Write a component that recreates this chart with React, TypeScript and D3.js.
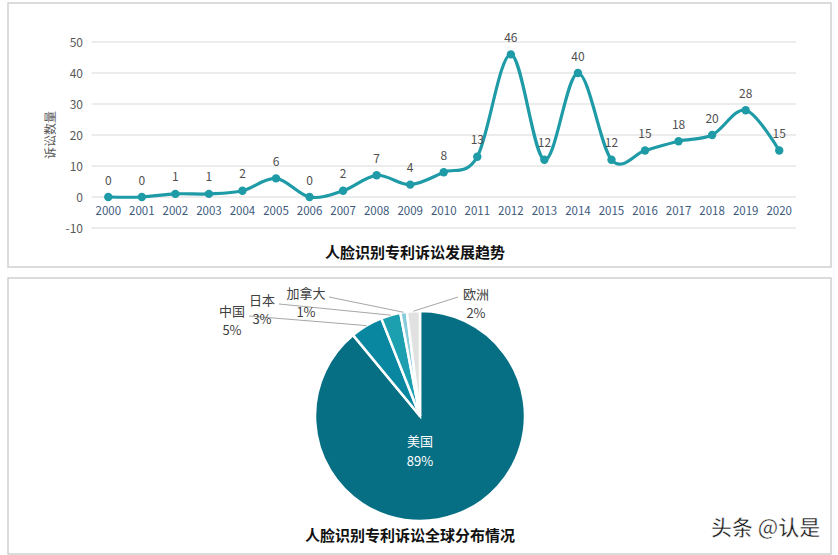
import React, { useRef, useEffect } from 'react';
import * as d3 from 'd3';

// litigation trend (top chart)
const years = ['2000', '2001', '2002', '2003', '2004', '2005', '2006', '2007', '2008', '2009', '2010',
  '2011', '2012', '2013', '2014', '2015', '2016', '2017', '2018', '2019', '2020'];
const cases = [0, 0, 1, 1, 2, 6, 0, 2, 7, 4, 8, 13, 46, 12, 40, 12, 15, 18, 20, 28, 15];
const yTicks = [-10, 0, 10, 20, 30, 40, 50];

// global distribution (bottom chart)
const regions = ['美国', '中国', '日本', '加拿大', '欧洲'];
const shares = [89, 5, 3, 1, 2];
const regionColors = ['#076F84', '#0A87A0', '#1CA0B0', '#86CDDC', '#E1E1E1'];

const W = 838;
const H = 555;
const FONT = '"Noto Sans CJK SC", "Noto Sans", sans-serif';

const App: React.FC = () => {
  const svgRef = useRef<SVGSVGElement>(null);

  useEffect(() => {
    if (!svgRef.current) return;
    const svg = d3.select(svgRef.current);
    svg.selectAll('*').remove();

    svg.append('rect').attr('width', W).attr('height', H).attr('fill', '#fff');

    // panel frames
    svg.append('rect')
      .attr('x', 8).attr('y', 3).attr('width', 823).attr('height', 264)
      .attr('fill', 'none').attr('stroke', '#d0d0d0').attr('stroke-width', 1.5);
    svg.append('rect')
      .attr('x', 8).attr('y', 278).attr('width', 823).attr('height', 276)
      .attr('fill', 'none').attr('stroke', '#d0d0d0').attr('stroke-width', 1.5);

    // ---------- line chart ----------
    const x = d3.scaleBand<string>().domain(years).range([91.5, 796]);
    const xc = (d: string) => (x(d) as number) + x.bandwidth() / 2;
    const y = d3.scaleLinear().domain([-10, 50]).range([228, 42]);

    const top = svg.append('g');

    yTicks.forEach(v => {
      top.append('line')
        .attr('x1', 91.5).attr('x2', 796)
        .attr('y1', y(v)).attr('y2', y(v))
        .attr('stroke', '#d9d9d9').attr('stroke-width', 1);
      top.append('text')
        .attr('x', 83).attr('y', y(v) + 4.5)
        .attr('text-anchor', 'end')
        .attr('font-family', FONT).attr('font-size', '12px')
        .attr('fill', '#595959')
        .text(v);
    });

    years.forEach(yr => {
      top.append('text')
        .attr('x', xc(yr)).attr('y', 214.5)
        .attr('text-anchor', 'middle')
        .attr('font-family', FONT).attr('font-size', '11.5px')
        .attr('fill', '#3D5A80')
        .text(yr);
    });

    const pts = years.map((yr, i) => ({ yr, v: cases[i] }));
    const line = d3.line<{ yr: string; v: number }>()
      .x(d => xc(d.yr))
      .y(d => y(d.v))
      .curve(d3.curveCardinal.tension(0));

    top.append('path')
      .datum(pts)
      .attr('d', line)
      .attr('fill', 'none')
      .attr('stroke', '#1E9BA7')
      .attr('stroke-width', 3.2);

    top.selectAll('.pt')
      .data(pts)
      .enter()
      .append('circle')
      .attr('cx', d => xc(d.yr))
      .attr('cy', d => y(d.v))
      .attr('r', 4.2)
      .attr('fill', '#1E9BA7');

    top.selectAll('.lbl')
      .data(pts)
      .enter()
      .append('text')
      .attr('x', d => xc(d.yr))
      .attr('y', d => y(d.v) - 12.5)
      .attr('text-anchor', 'middle')
      .attr('font-family', FONT).attr('font-size', '12px')
      .attr('fill', '#4f4f4f')
      .text(d => d.v);

    top.append('text')
      .attr('transform', 'translate(55,135) rotate(-90)')
      .attr('text-anchor', 'middle')
      .attr('font-family', FONT).attr('font-size', '12px')
      .attr('fill', '#595959')
      .text('诉讼数量');

    top.append('text')
      .attr('x', 415).attr('y', 258)
      .attr('text-anchor', 'middle')
      .attr('font-family', FONT).attr('font-size', '15px').attr('font-weight', 700)
      .attr('fill', '#111')
      .text('人脸识别专利诉讼发展趋势');

    // ---------- pie chart ----------
    const cx = 420, cy = 416, r = 105;
    const pieData = regions.map((name, i) => ({ name, v: shares[i], c: regionColors[i] }));
    const arcs = d3.pie<{ name: string; v: number; c: string }>()
      .value(d => d.v)
      .sort(null)(pieData);
    const arc = d3.arc<d3.PieArcDatum<{ name: string; v: number; c: string }>>()
      .innerRadius(0).outerRadius(r);

    const pie = svg.append('g').attr('transform', `translate(${cx},${cy})`);
    pie.selectAll('path')
      .data(arcs)
      .enter()
      .append('path')
      .attr('d', arc)
      .attr('fill', d => d.data.c)
      .attr('stroke', '#fff')
      .attr('stroke-width', 2.5);

    // labels for the small slices (leader ends on the slice's outer edge)
    const labelPos: Record<string, { tx: number; ty: number; lx: number; ly: number }> = {
      '中国': { tx: 232, ty: 316, lx: 249, ly: 316 },
      '日本': { tx: 262, ty: 305, lx: 279, ly: 304 },
      '加拿大': { tx: 306, ty: 298, lx: 329, ly: 297 },
      '欧洲': { tx: 476, ty: 299, lx: 458, ly: 297 },
    };

    arcs.forEach(a => {
      if (a.data.name === '美国') {
        pie.append('text')
          .attr('x', 0).attr('y', 30)
          .attr('text-anchor', 'middle')
          .attr('font-family', FONT).attr('font-size', '13px')
          .attr('fill', '#fff')
          .text(a.data.name);
        pie.append('text')
          .attr('x', 0).attr('y', 50)
          .attr('text-anchor', 'middle')
          .attr('font-family', FONT).attr('font-size', '13px')
          .attr('fill', '#fff')
          .text(`${a.data.v}%`);
        return;
      }
      const p = labelPos[a.data.name];
      const mid = (a.startAngle + a.endAngle) / 2;
      const ex = cx + r * Math.sin(mid);
      const ey = cy - r * Math.cos(mid);
      svg.append('line')
        .attr('x1', p.lx).attr('y1', p.ly)
        .attr('x2', ex).attr('y2', ey)
        .attr('stroke', '#a6a6a6').attr('stroke-width', 1);
      svg.append('text')
        .attr('x', p.tx).attr('y', p.ty)
        .attr('text-anchor', 'middle')
        .attr('font-family', FONT).attr('font-size', '13px')
        .attr('fill', '#404040')
        .text(a.data.name);
      svg.append('text')
        .attr('x', p.tx).attr('y', p.ty + 19)
        .attr('text-anchor', 'middle')
        .attr('font-family', FONT).attr('font-size', '13px')
        .attr('fill', '#404040')
        .text(`${a.data.v}%`);
    });

    svg.append('text')
      .attr('x', 410).attr('y', 541)
      .attr('text-anchor', 'middle')
      .attr('font-family', FONT).attr('font-size', '15px').attr('font-weight', 700)
      .attr('fill', '#111')
      .text('人脸识别专利诉讼全球分布情况');

    // watermark
    svg.append('text')
      .attr('x', 711).attr('y', 535)
      .attr('font-family', FONT).attr('font-size', '21px').attr('font-weight', 500)
      .attr('fill', '#1a1a1a')
      .attr('stroke', '#fff').attr('stroke-width', 0.5)
      .text('头条 @认是');
  }, []);

  return (
    <svg
      ref={svgRef}
      width={W}
      height={H}
      style={{ position: 'absolute', left: 0, top: 0 }}
    />
  );
};

export default App;
